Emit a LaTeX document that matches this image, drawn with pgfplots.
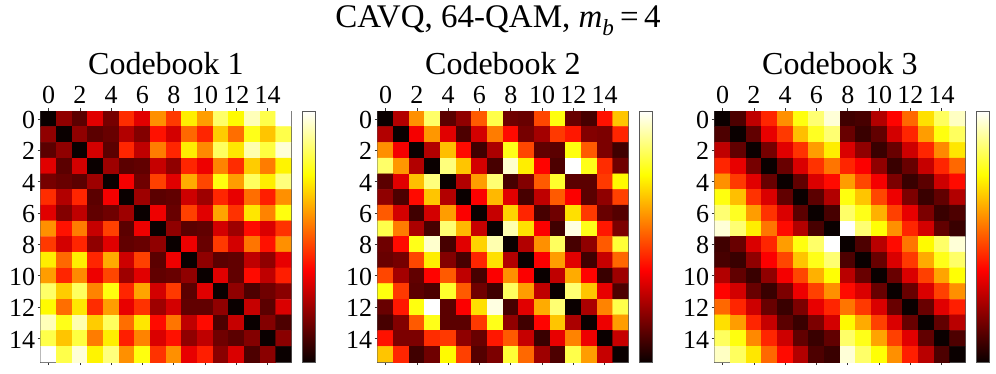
\documentclass[border=0pt]{standalone}
\usepackage{fontspec}
\setmainfont{Liberation Serif}
\usepackage{pgfplots}
\usepackage{pgfplotstable}
\pgfplotsset{compat=1.18}

% cell values, 0 = black ... 100 = white, row by row
\pgfplotstableread[row sep=crcr]{c\\
0\\20\\12\\32\\16\\43\\32\\58\\45\\72\\60\\85\\74\\93\\82\\100\\
20\\0\\20\\12\\14\\25\\18\\39\\30\\52\\42\\67\\53\\77\\66\\82\\
12\\20\\0\\30\\12\\42\\27\\55\\42\\72\\57\\84\\71\\92\\81\\96\\
32\\12\\30\\0\\22\\12\\13\\28\\20\\42\\34\\56\\43\\67\\55\\73\\
16\\14\\12\\22\\0\\35\\15\\46\\32\\62\\47\\76\\60\\84\\72\\87\\
43\\25\\42\\12\\35\\0\\22\\12\\13\\29\\22\\42\\33\\53\\41\\58\\
32\\18\\27\\13\\15\\22\\0\\34\\14\\46\\32\\61\\44\\71\\56\\76\\
58\\39\\55\\28\\46\\12\\34\\0\\20\\12\\13\\30\\22\\38\\31\\44\\
45\\30\\42\\20\\32\\13\\14\\20\\0\\34\\14\\45\\30\\54\\39\\58\\
72\\52\\72\\42\\62\\29\\46\\12\\34\\0\\20\\12\\13\\27\\20\\33\\
60\\42\\57\\34\\47\\22\\32\\13\\14\\20\\0\\32\\13\\38\\27\\41\\
85\\67\\84\\56\\76\\42\\61\\30\\45\\12\\32\\0\\20\\10\\15\\19\\
74\\53\\71\\43\\60\\33\\44\\22\\30\\13\\13\\20\\0\\28\\12\\31\\
93\\77\\92\\67\\84\\53\\71\\38\\54\\27\\38\\10\\28\\0\\18\\10\\
82\\66\\81\\55\\72\\41\\56\\31\\39\\20\\27\\15\\12\\18\\0\\19\\
100\\82\\96\\73\\87\\58\\76\\44\\58\\33\\41\\19\\31\\10\\19\\0\\
}\cbA

\pgfplotstableread[row sep=crcr]{c\\
0\\25\\58\\85\\12\\20\\50\\82\\15\\14\\47\\76\\14\\9\\39\\66\\
25\\0\\35\\59\\32\\10\\30\\55\\38\\16\\23\\45\\40\\18\\17\\42\\
58\\35\\0\\25\\65\\38\\8\\24\\77\\47\\13\\12\\76\\50\\17\\8\\
85\\59\\25\\0\\87\\66\\30\\9\\95\\72\\37\\10\\100\\77\\43\\15\\
12\\32\\65\\87\\0\\25\\60\\86\\9\\18\\50\\79\\12\\12\\45\\74\\
20\\10\\38\\66\\25\\0\\36\\64\\32\\9\\27\\50\\36\\12\\20\\46\\
50\\30\\8\\30\\60\\36\\0\\28\\68\\42\\9\\15\\70\\45\\14\\11\\
82\\55\\24\\9\\86\\64\\28\\0\\92\\70\\36\\8\\97\\77\\40\\17\\
15\\38\\77\\95\\9\\32\\68\\92\\0\\25\\58\\84\\9\\20\\50\\80\\
14\\16\\47\\72\\18\\9\\42\\70\\25\\0\\36\\60\\32\\8\\28\\52\\
47\\23\\13\\37\\50\\27\\9\\36\\58\\36\\0\\27\\62\\37\\7\\22\\
76\\45\\12\\10\\79\\50\\15\\8\\84\\60\\27\\0\\86\\66\\33\\10\\
14\\40\\76\\100\\12\\36\\70\\97\\9\\32\\62\\86\\0\\24\\56\\82\\
9\\18\\50\\77\\12\\12\\45\\77\\20\\8\\37\\66\\24\\0\\34\\60\\
39\\17\\17\\43\\45\\20\\14\\40\\50\\28\\7\\33\\56\\34\\0\\28\\
66\\42\\8\\15\\74\\46\\11\\17\\80\\52\\22\\10\\82\\60\\28\\0\\
}\cbB

\pgfplotstableread[row sep=crcr]{c\\
0\\10\\27\\42\\58\\76\\86\\96\\8\\9\\25\\37\\52\\70\\84\\94\\
10\\0\\13\\33\\45\\65\\78\\86\\14\\7\\13\\30\\42\\60\\76\\84\\
27\\13\\0\\16\\32\\44\\60\\72\\31\\20\\7\\14\\29\\42\\57\\71\\
42\\33\\16\\0\\14\\31\\44\\54\\42\\36\\20\\7\\14\\28\\42\\52\\
58\\45\\32\\14\\0\\13\\31\\38\\60\\47\\35\\17\\7\\12\\29\\38\\
76\\65\\44\\31\\13\\0\\12\\25\\76\\66\\47\\34\\17\\7\\13\\25\\
86\\78\\60\\44\\31\\12\\0\\9\\85\\77\\63\\46\\33\\17\\7\\10\\
96\\86\\72\\54\\38\\25\\9\\0\\100\\86\\75\\58\\42\\30\\13\\7\\
8\\14\\31\\42\\60\\76\\85\\100\\0\\10\\26\\38\\54\\74\\85\\96\\
9\\7\\20\\36\\47\\66\\77\\86\\10\\0\\14\\31\\45\\62\\77\\85\\
25\\13\\7\\20\\35\\47\\63\\75\\26\\14\\0\\14\\31\\46\\61\\75\\
37\\30\\14\\7\\17\\34\\46\\58\\38\\31\\14\\0\\14\\31\\46\\58\\
52\\42\\29\\14\\7\\17\\33\\42\\54\\45\\31\\14\\0\\14\\32\\41\\
70\\60\\42\\28\\12\\7\\17\\30\\74\\62\\46\\31\\14\\0\\13\\26\\
84\\76\\57\\42\\29\\13\\7\\13\\85\\77\\61\\46\\32\\13\\0\\10\\
94\\84\\71\\52\\38\\25\\10\\7\\96\\85\\75\\58\\41\\26\\10\\0\\
}\cbC

\pgfplotsset{
  colormap={mplhot}{rgb(0pt)=(0.04,0,0); rgb(365pt)=(1,0,0); rgb(746pt)=(1,1,0); rgb(1000pt)=(1,1,1)},
  hm/.style={
    scale only axis, width=250.5pt, height=251pt,
    anchor=south west,
    xmin=-0.5, xmax=15.5, ymin=-0.5, ymax=15.5, y dir=reverse,
    xtick={0,2,...,14}, ytick={0,2,...,14},
    xticklabel pos=top, ytick pos=left,
    tick align=outside, major tick length=3pt,
    axis line style={black!65, line width=0.9pt},
    tick style={black!80, line width=0.6pt},
    /pgf/number format/assume math mode=true,
    tick label style={font=\fontsize{26}{26}\selectfont},
    x tick label style={yshift=1pt},
    y tick label style={xshift=1pt, yshift=-1pt},
    title style={font=\fontsize{32}{32}\selectfont, yshift=27pt},
    colormap name=mplhot, point meta min=0, point meta max=100,
    colorbar,
    colorbar style={
      at={(parent axis.north east)}, anchor=north west, xshift=3pt,
      width=12.5pt, ytick=\empty, axis line style={black!65, line width=0.9pt},
    },
  },
  cells/.style={matrix plot*, mesh/cols=16, point meta=explicit,
    /pgfplots/table/x index=0, /pgfplots/table/y index=0, /pgfplots/table/meta=c,
    /pgfplots/table/x expr={\coordindex-16*floor((\coordindex+0.5)/16)},
    /pgfplots/table/y expr={floor((\coordindex+0.5)/16)}},
}

\begin{document}
\begin{tikzpicture}
\useasboundingbox (0,0) rectangle (996pt,373pt);
\node[font=\fontsize{33}{33}\selectfont, anchor=base] at (498pt,345pt)
  {CAVQ, 64-QAM, \textit{m}\textsubscript{\textit{b}}\,=\,4};

\begin{axis}[hm, at={(40.7pt,11pt)}, title={Codebook 1}]
  \addplot[cells] table {\cbA};
\end{axis}
\begin{axis}[hm, at={(377.7pt,11pt)}, title={Codebook 2}]
  \addplot[cells] table {\cbB};
\end{axis}
\begin{axis}[hm, at={(714.7pt,11pt)}, title={Codebook 3}]
  \addplot[cells] table {\cbC};
\end{axis}
\end{tikzpicture}
\end{document}
